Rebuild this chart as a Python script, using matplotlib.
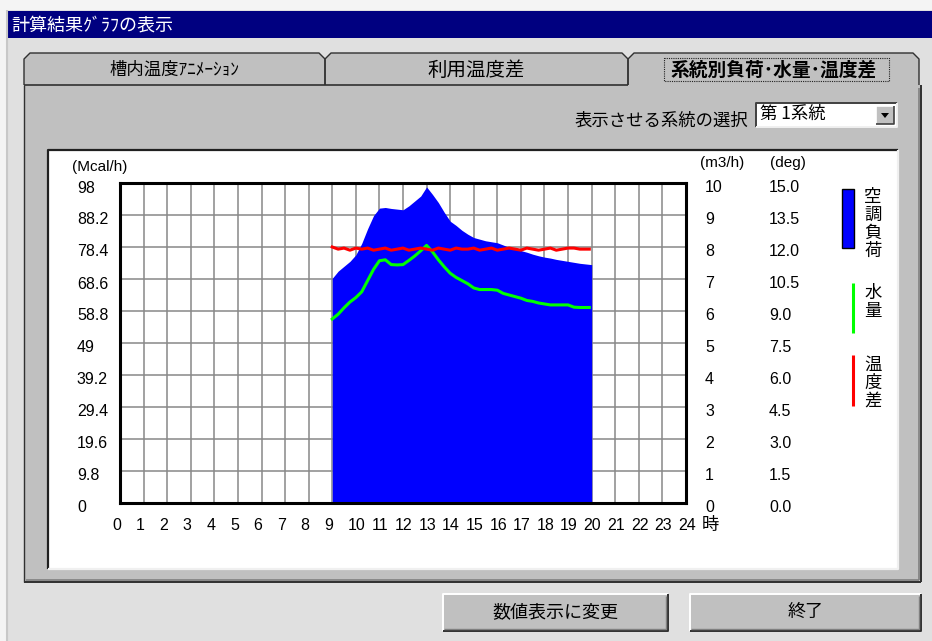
import matplotlib
matplotlib.use("Agg")
import matplotlib.pyplot as plt
from matplotlib.patches import Rectangle, Polygon
from matplotlib.transforms import ScaledTranslation

plt.rcParams['font.family'] = ['Liberation Sans', 'Noto Sans CJK JP', 'DejaVu Sans']
JP = ['Noto Sans CJK JP', 'DejaVu Sans']

# --- data ---
hours = [9.0, 9.25, 9.5, 9.75, 10.0, 10.25, 10.5, 10.75, 11.0, 11.25, 11.5, 11.75,
         12.0, 12.25, 12.5, 12.75, 13.0, 13.25, 13.5, 13.75, 14.0, 14.25, 14.5, 14.75,
         15.0, 15.25, 15.5, 15.75, 16.0, 16.25, 16.5, 16.75, 17.0, 17.25, 17.5, 17.75,
         18.0, 18.25, 18.5, 18.75, 19.0, 19.25, 19.5, 19.75, 20.0]
# 空調負荷 (Mcal/h)
load = [68.8, 71.0, 72.5, 74.0, 76.0, 79.5, 84.0, 88.0, 90.3, 90.5, 90.2, 90.0,
        89.8, 91.0, 92.5, 94.0, 96.8, 94.5, 92.0, 89.0, 86.3, 85.0, 83.5, 82.3,
        81.3, 80.8, 80.3, 80.0, 79.7, 79.0, 78.3, 77.8, 77.3, 76.8, 76.2, 75.7,
        75.3, 75.0, 74.6, 74.3, 74.0, 73.7, 73.4, 73.2, 73.0]

line_hours = [9.0, 9.25, 9.5, 9.75, 10.0, 10.25, 10.5, 10.75, 11.0, 11.25, 11.5, 11.75,
              12.0, 12.25, 12.5, 12.75, 13.0, 13.25, 13.5, 13.75, 14.0, 14.25, 14.5, 14.75,
              15.0, 15.25, 15.5, 15.75, 16.0, 16.25, 16.5, 16.75, 17.0, 17.25, 17.5, 17.75,
              18.0, 18.25, 18.5, 18.75, 19.0, 19.25, 19.5, 19.75, 19.9]
# 水量 (m3/h)
flow = [5.75, 5.9, 6.1, 6.28, 6.42, 6.6, 6.95, 7.3, 7.57, 7.6, 7.45, 7.44,
        7.45, 7.58, 7.72, 7.88, 8.05, 7.85, 7.6, 7.38, 7.18, 7.05, 6.95, 6.85,
        6.72, 6.67, 6.67, 6.67, 6.65, 6.55, 6.5, 6.45, 6.4, 6.33, 6.3, 6.25,
        6.22, 6.19, 6.19, 6.19, 6.19, 6.12, 6.11, 6.11, 6.11]
# 温度差 (deg)
dtemp = [12.0, 11.9, 11.95, 11.85, 11.95, 11.9, 11.95, 11.85, 11.9, 11.95, 11.85, 11.9,
         11.95, 11.85, 11.9, 11.95, 11.9, 11.85, 11.95, 11.9, 11.85, 11.95, 11.9, 11.9,
         11.95, 11.85, 11.9, 11.95, 11.85, 11.9, 11.95, 11.9, 11.85, 11.95, 11.9, 11.85,
         11.9, 11.95, 11.85, 11.9, 11.95, 11.95, 11.9, 11.9, 11.9]

hour_ticks = [0, 1, 2, 3, 4, 5, 6, 7, 8, 9, 10, 11, 12, 13, 14, 15, 16, 17, 18, 19, 20, 21, 22, 23, 24]
load_ticks = [0, 9.8, 19.6, 29.4, 39.2, 49, 58.8, 68.6, 78.4, 88.2, 98]
load_labels = ['0', '9.8', '19.6', '29.4', '39.2', '49', '58.8', '68.6', '78.4', '88.2', '98']
flow_ticks = [0, 1, 2, 3, 4, 5, 6, 7, 8, 9, 10]
deg_ticks = [0, 1.5, 3.0, 4.5, 6.0, 7.5, 9.0, 10.5, 12.0, 13.5, 15.0]

title = '計算結果ｸﾞﾗﾌの表示'
tab_labels = ['槽内温度ｱﾆﾒｰｼｮﾝ', '利用温度差', '系統別負荷･水量･温度差']
legend_names = ['空調負荷', '水量', '温度差']

BLUE, GREEN, RED = '#0000ff', '#00ff00', '#ff0000'
W, H = 932, 641

fig = plt.figure(figsize=(W / 100, H / 100), dpi=100)
fig.patch.set_facecolor('#f4f4f4')

# background axes in screen pixels (y down) for the dialog chrome
bg = fig.add_axes([0, 0, 1, 1])
bg.set_xlim(0, W)
bg.set_ylim(H, 0)
bg.axis('off')


def line(xs, ys, c, w=1.0):
    bg.plot(xs, ys, color=c, lw=w, solid_capstyle='butt')


def box(x0, y0, x1, y1, face, tl, br, w=1.0):
    bg.add_patch(Rectangle((x0, y0), x1 - x0, y1 - y0, facecolor=face, edgecolor='none'))
    line([x0, x0, x1], [y1, y0, y0], tl, w)
    line([x0, x1, x1], [y1, y1, y0], br, w)


# window + title bar
bg.add_patch(Rectangle((7, 10), W - 7, H - 10, facecolor='#e0e0e0', edgecolor='none'))
line([7, 7], [10, H], '#c8c8c8', 1.5)
bg.add_patch(Rectangle((8, 11), W - 8, 27, facecolor='#000080', edgecolor='none'))
bg.text(11, 25, title, color='white', fontsize=13, family=JP, va='center', ha='left')

# tab panel
bg.add_patch(Rectangle((24, 85), 896, 497, facecolor='#c0c0c0', edgecolor='none'))
line([24, 24], [85, 582], '#303030')
line([24, 921], [582, 582], '#303030', 1.4)
line([921, 921], [85, 582], '#303030', 1.4)
line([26, 919], [580, 580], '#808080', 1.2)
line([919, 919], [88, 580], '#808080', 1.2)

tab_x = [(24, 325), (325, 628), (628, 919)]
tab_size = [12.5, 14, 13.5]
for i, (x0, x1) in enumerate(tab_x):
    pts = [(x0, 85), (x0, 59), (x0 + 6, 53), (x1 - 6, 53), (x1, 59), (x1, 85)]
    bg.add_patch(Polygon(pts, closed=True, facecolor='#c0c0c0', edgecolor='none'))
    xs, ys = zip(*pts)
    line(xs, ys, '#303030', 1.0)
    if i < 2:
        line([x0, x1], [85, 85], '#303030', 1.2)
    bold = 'bold' if i == 2 else 'normal'
    bg.text((x0 + x1) / 2, 70, tab_labels[i], fontsize=tab_size[i], family=JP,
            ha='center', va='center', fontweight=bold)
bg.add_patch(Rectangle((664, 58), 225, 23, facecolor='none', edgecolor='#202020',
                       lw=0.8, ls=(0, (1, 1))))

# selector
bg.text(748, 121, '表示させる系統の選択', fontsize=12.5, family=JP, ha='right', va='center')
box(756, 103, 897, 127, 'white', '#404040', '#f0f0f0', 1.4)
bg.text(760, 114, '第 1系統', fontsize=12.5, family=JP, ha='left', va='center')
box(876, 106, 894, 124, '#c0c0c0', 'white', '#404040', 1.2)
bg.add_patch(Polygon([(881, 113), (889, 113), (885, 118)], closed=True,
                     facecolor='black', edgecolor='none'))

# chart panel
box(48, 150, 898, 569, 'white', '#202020', '#f0f0f0', 1.6)

# buttons
for (x0, x1), txt in zip([(443, 668), (690, 921)], ['数値表示に変更', '終了']):
    box(x0, 594, x1, 631, '#c0c0c0', 'white', '#303030', 1.4)
    line([x0 + 1, x1 - 2, x1 - 2], [629, 629, 596], '#808080', 1.0)
    bg.text((x0 + x1) / 2, 612, txt, fontsize=13, family=JP, ha='center', va='center')

# legend (vertical labels)
bg.add_patch(Rectangle((842, 189), 12, 59, facecolor=BLUE, edgecolor='black', lw=1.0))
line([853, 853], [283, 333], GREEN, 2.2)
line([853, 853], [355, 406], RED, 2.2)
legend_y = [197, 293, 365]
for name, y0 in zip(legend_names, legend_y):
    for k, ch in enumerate(name):
        bg.text(873, y0 + k * 18, ch, fontsize=12.5, family=JP, ha='center', va='center')

# unit labels
bg.text(72, 167, '(Mcal/h)', fontsize=11, ha='left', va='center')
bg.text(700, 163, '(m3/h)', fontsize=11, ha='left', va='center')
bg.text(770, 163, '(deg)', fontsize=11, ha='left', va='center')
bg.text(702, 525, '時', fontsize=12.5, family=JP, ha='left', va='center')

# --- the chart itself ---
ax = fig.add_axes([120 / W, (H - 503) / H, 566 / W, 320 / H])
ax.set_facecolor('white')
ax.set_xlim(0, 24)
ax.set_ylim(0, 98)
ax.set_xticks(hour_ticks)
ax.set_xticklabels([str(h) for h in hour_ticks])
ax.set_yticks(load_ticks)
ax.set_yticklabels(load_labels)
ax.set_axisbelow(True)
ax.grid(True, color='#888888', lw=1.1)
ax.tick_params(length=0, labelsize=11.5)
ax.tick_params(axis='y', pad=31)
ax.tick_params(axis='x', pad=11)
for s in ax.spines.values():
    s.set_color('black')
    s.set_linewidth(2.2)

ax.fill_between(hours, load, 0, color=BLUE, lw=0, zorder=2)

ax2 = ax.twinx()
ax2.set_ylim(0, 10)
ax2.set_yticks(flow_ticks)
ax2.tick_params(length=0, labelsize=11.5, pad=13.7)
ax2.plot(line_hours, flow, color=GREEN, lw=2.2)

ax3 = ax.twinx()
ax3.set_ylim(0, 15)
ax3.set_yticks(deg_ticks)
ax3.set_yticklabels([f'{v:.1f}' for v in deg_ticks])
ax3.tick_params(length=0, labelsize=11.5, pad=59.8)
ax3.plot(line_hours, dtemp, color=RED, lw=2.2)

for a in (ax2, ax3):
    for s in a.spines.values():
        s.set_visible(False)

down = ScaledTranslation(0, -3.5 / 100, fig.dpi_scale_trans)
for a in (ax, ax2, ax3):
    for t in a.get_yticklabels():
        t.set_ha('left')
        t.set_transform(t.get_transform() + down)
left = ScaledTranslation(-8 / 100, 0, fig.dpi_scale_trans)
for t in ax.get_xticklabels():
    t.set_ha('left')
    t.set_transform(t.get_transform() + left)

fig.savefig('out.png', dpi=100, facecolor=fig.get_facecolor())
